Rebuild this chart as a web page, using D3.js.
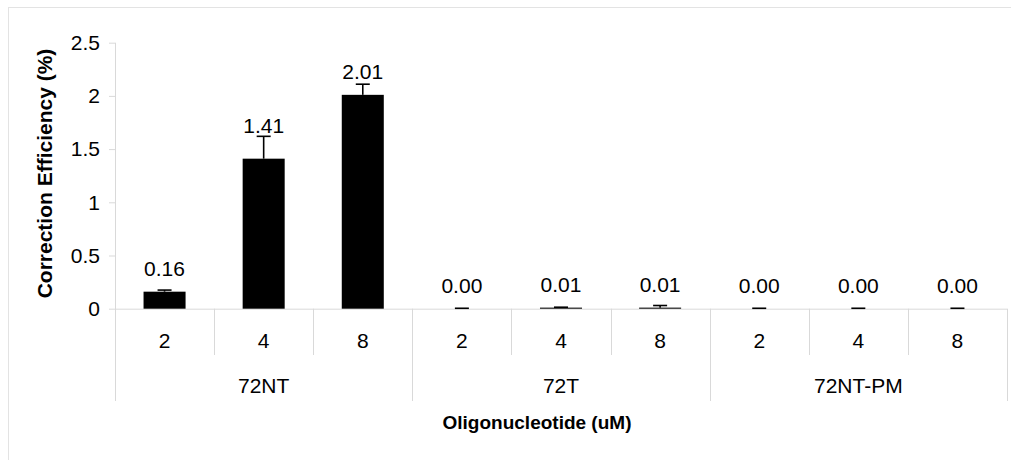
<!DOCTYPE html>
<html>
<head>
<meta charset="utf-8">
<script src="https://cdn.jsdelivr.net/npm/d3@7"></script>
<style>
  html, body { margin: 0; padding: 0; background: #fff; }
  svg { display: block; font-family: "Liberation Sans", Arial, sans-serif; }
</style>
</head>
<body>
<svg id="chart" width="1011" height="460"></svg>
<script>
var groups = ["72NT", "72T", "72NT-PM"];
var doses = ["2", "4", "8"];
var efficiency = [0.16, 1.41, 2.01, 0.00, 0.01, 0.01, 0.00, 0.00, 0.00];
var errors = [0.015, 0.21, 0.10, 0.004, 0.004, 0.02, 0.004, 0.004, 0.004];
var yTicks = [0, 0.5, 1, 1.5, 2, 2.5];

var bars = d3.range(efficiency.length).map(function(i) {
  return {
    idx: i,
    group: groups[Math.floor(i / doses.length)],
    dose: doses[i % doses.length],
    value: efficiency[i],
    err: errors[i]
  };
});

var svg = d3.select("#chart");
var gridColor = "#d9d9d9";
var fs = 21;

var left = 115, right = 1007, y0 = 308.7, yTop = 42.7;
var doseBottom = 355, groupBottom = 401;

// outer frame
svg.append("rect")
  .attr("x", 8.5).attr("y", 7.5)
  .attr("width", 1100).attr("height", 600)
  .attr("fill", "none").attr("stroke", "#e3e3e3");

var x = d3.scaleBand()
  .domain(bars.map(d => d.idx))
  .range([left, right])
  .paddingInner(0.576)
  .paddingOuter(0.288);

var y = d3.scaleLinear()
  .domain([0, 2.5])
  .range([y0, yTop]);

// y axis
var yAxis = d3.axisLeft(y)
  .tickValues(yTicks)
  .tickSize(6)
  .tickPadding(9)
  .tickFormat(d => String(d));

var gy = svg.append("g")
  .attr("transform", "translate(" + left + ",0)")
  .call(yAxis);
gy.select(".domain").remove();
gy.selectAll(".tick line").attr("stroke", gridColor);
gy.selectAll(".tick text")
  .attr("font-size", fs)
  .attr("fill", "#000")
  .attr("font-family", "Liberation Sans, Arial, sans-serif");

// axis lines
svg.append("line")
  .attr("x1", left + 0.5).attr("x2", left + 0.5)
  .attr("y1", yTop).attr("y2", groupBottom)
  .attr("stroke", gridColor);
svg.append("line")
  .attr("x1", left).attr("x2", right)
  .attr("y1", y0 + 0.5).attr("y2", y0 + 0.5)
  .attr("stroke", gridColor);

// category separators
var step = x.step();
d3.range(1, efficiency.length + 1).forEach(function(k) {
  var xx = Math.round(left + step * k) + 0.5;
  var isGroup = k % doses.length === 0;
  svg.append("line")
    .attr("x1", xx).attr("x2", xx)
    .attr("y1", y0).attr("y2", isGroup ? groupBottom : doseBottom)
    .attr("stroke", gridColor);
});

// bars
svg.append("g").selectAll("rect")
  .data(bars)
  .join("rect")
  .attr("x", d => x(d.idx))
  .attr("width", x.bandwidth())
  .attr("y", d => y(d.value))
  .attr("height", d => y0 - y(d.value))
  .attr("fill", "#000");

// error bars (upper half)
var eg = svg.append("g").attr("stroke", "#000").attr("stroke-width", 1.6);
bars.forEach(function(d) {
  var cx = x(d.idx) + x.bandwidth() / 2;
  eg.append("line")
    .attr("x1", cx).attr("x2", cx)
    .attr("y1", y(d.value)).attr("y2", y(d.value + d.err));
  eg.append("line")
    .attr("x1", cx - 7).attr("x2", cx + 7)
    .attr("y1", y(d.value + d.err)).attr("y2", y(d.value + d.err));
});

// value labels
svg.append("g").selectAll("text")
  .data(bars)
  .join("text")
  .attr("x", d => x(d.idx) + x.bandwidth() / 2)
  .attr("y", d => Math.min(y(d.value) - 23.5, y(d.value + d.err) - 11) + 7.5)
  .attr("text-anchor", "middle")
  .attr("font-size", fs)
  .attr("fill", "#000")
  .text(d => d.value.toFixed(2));

// dose labels
svg.append("g").selectAll("text")
  .data(bars)
  .join("text")
  .attr("x", d => x(d.idx) + x.bandwidth() / 2)
  .attr("y", 347.5)
  .attr("text-anchor", "middle")
  .attr("font-size", fs)
  .attr("fill", "#000")
  .text(d => d.dose);

// group labels
svg.append("g").selectAll("text")
  .data(groups)
  .join("text")
  .attr("x", (d, i) => left + step * doses.length * (i + 0.5))
  .attr("y", 392.5)
  .attr("text-anchor", "middle")
  .attr("font-size", fs)
  .attr("fill", "#000")
  .text(d => d);

// axis titles
svg.append("text")
  .attr("x", 537).attr("y", 428.5)
  .attr("text-anchor", "middle")
  .attr("font-size", 19)
  .attr("font-weight", "bold")
  .attr("fill", "#000")
  .text("Oligonucleotide (uM)");

svg.append("text")
  .attr("transform", "translate(51.5,173.5) rotate(-90)")
  .attr("text-anchor", "middle")
  .attr("font-size", 21)
  .attr("font-weight", "bold")
  .attr("fill", "#000")
  .text("Correction Efficiency (%)");
</script>
</body>
</html>
